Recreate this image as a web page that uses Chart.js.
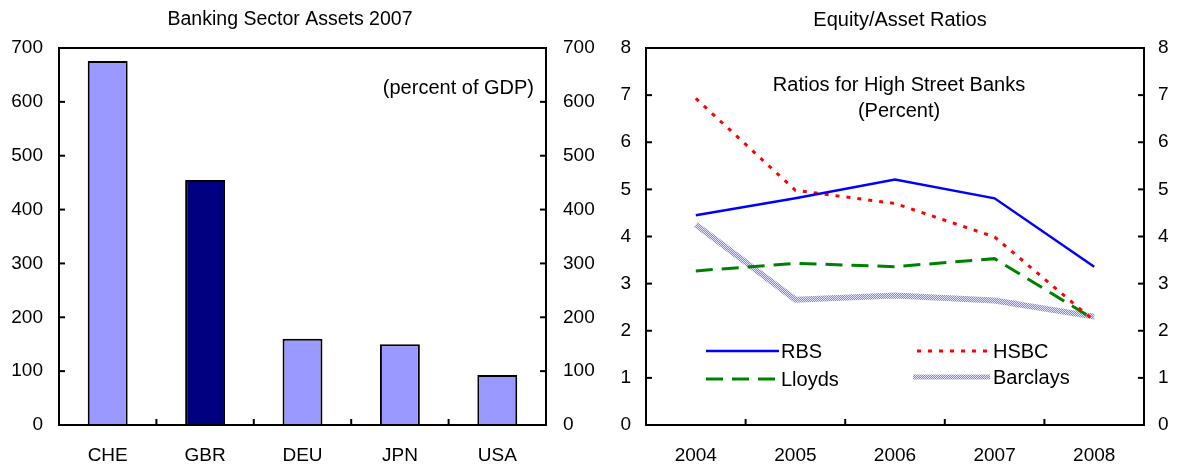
<!DOCTYPE html>
<html>
<head>
<meta charset="utf-8">
<script src="https://cdn.jsdelivr.net/npm/chart.js@4.4.0/dist/chart.umd.min.js"></script>
<style>
  html, body { margin: 0; padding: 0; background: #fff; }
  #wrap { position: relative; width: 1178px; height: 465px; }
  .box { position: absolute; top: 0; height: 465px; }
</style>
</head>
<body>
<div id="wrap">
  <div class="box" style="left:0;width:600px"><canvas id="assets"></canvas></div>
  <div class="box" style="left:589px;width:589px"><canvas id="ratios"></canvas></div>
</div>
<script>
// left panel: banking sector assets 2007, percent of GDP
const countries = ['CHE', 'GBR', 'DEU', 'JPN', 'USA'];
const assetsPct = [676, 455, 160, 150, 93];

// right panel: equity/asset ratios, percent
const years = ['2004', '2005', '2006', '2007', '2008'];
const rbs = [4.45, 4.81, 5.21, 4.81, 3.36];
const hsbc = [6.93, 4.98, 4.70, 3.99, 2.21];
const lloyds = [3.27, 3.43, 3.36, 3.53, 2.24];
const barclays = [4.25, 2.66, 2.75, 2.64, 2.30];

const FONT = 'Liberation Sans, Arial, sans-serif';
const tickFont = { family: FONT, size: 19 };

Chart.defaults.font.family = FONT;
Chart.defaults.color = '#000';

function hatch() {
  const c = document.createElement('canvas');
  c.width = 2; c.height = 2;
  const g = c.getContext('2d');
  g.fillStyle = '#e4e4ff';
  g.fillRect(0, 0, 2, 2);
  g.fillStyle = '#8080ff';
  g.fillRect(0, 0, 1, 1);
  g.fillRect(1, 1, 1, 1);
  return g.createPattern(c, 'repeat');
}

// box round the plot plus short inward tick marks
const frame = {
  id: 'frame',
  afterDraw(chart) {
    const { ctx, chartArea: a, scales } = chart;
    const seg = (x1, y1, x2, y2) => {
      ctx.beginPath(); ctx.moveTo(x1, y1); ctx.lineTo(x2, y2); ctx.stroke();
    };
    ctx.save();
    ctx.strokeStyle = '#000';
    ctx.lineWidth = 2;
    ctx.strokeRect(a.left, a.top, a.right - a.left, a.bottom - a.top);
    const y = scales.y;
    y.ticks.forEach(t => {
      const py = y.getPixelForValue(t.value);
      seg(a.left, py, a.left + 6, py);
      seg(a.right - 6, py, a.right, py);
    });
    const x = scales.x;
    for (let i = 0; i < x.ticks.length - 1; i++) {
      const px = (x.getPixelForValue(i) + x.getPixelForValue(i + 1)) / 2;
      seg(px, a.bottom, px, a.bottom - 6);
    }
    ctx.restore();
  }
};

// titles and notes
const notes = {
  id: 'notes',
  afterDraw(chart, args, opts) {
    const ctx = chart.ctx;
    ctx.save();
    ctx.fillStyle = '#000';
    ctx.textBaseline = 'middle';
    (opts.items || []).forEach(n => {
      ctx.font = n.size + 'px ' + FONT;
      ctx.textAlign = n.align || 'center';
      ctx.fillText(n.text, n.x, n.y);
    });
    ctx.restore();
  }
};

// legend laid out as in the original, two by two inside the plot
const keyBox = {
  id: 'keyBox',
  afterDraw(chart, args, opts) {
    const ctx = chart.ctx;
    ctx.save();
    (opts.items || []).forEach(k => {
      const ds = chart.data.datasets[k.index];
      ctx.strokeStyle = ds.borderColor;
      ctx.lineWidth = k.lw || ds.borderWidth;
      ctx.setLineDash(ds.borderDash || []);
      ctx.beginPath();
      ctx.moveTo(k.x, k.y);
      ctx.lineTo(k.x + k.w, k.y);
      ctx.stroke();
      ctx.setLineDash([]);
      ctx.fillStyle = '#000';
      ctx.font = '20px ' + FONT;
      ctx.textAlign = 'left';
      ctx.textBaseline = 'middle';
      ctx.fillText(ds.label, k.tx, k.y + 1);
    });
    ctx.restore();
  }
};

const noGrid = { display: false, drawTicks: false };
const noBorder = { display: false };

new Chart(document.getElementById('assets'), {
  type: 'bar',
  data: {
    labels: countries,
    datasets: [{
      data: assetsPct,
      backgroundColor: countries.map(c => c === 'GBR' ? '#000080' : '#9999ff'),
      borderColor: '#000',
      borderWidth: 2,
      borderSkipped: 'bottom',
      barPercentage: 0.41,
      categoryPercentage: 1
    }]
  },
  options: {
    responsive: true,
    maintainAspectRatio: false,
    animation: false,
    layout: { padding: { top: 48, left: 0, right: 0, bottom: 0 } },
    plugins: {
      legend: { display: false },
      tooltip: { enabled: false },
      notes: {
        items: [
          { text: 'Banking Sector Assets 2007', x: 290, y: 20, size: 19.5 },
          { text: '(percent of GDP)', x: 534, y: 88, size: 20, align: 'right' }
        ]
      }
    },
    scales: {
      x: {
        grid: noGrid, border: noBorder,
        ticks: { font: tickFont, padding: 19 },
        afterFit(s) { s.height = 40; }
      },
      y: {
        position: 'left', min: 0, max: 700,
        grid: noGrid, border: noBorder,
        ticks: { stepSize: 100, font: tickFont, padding: 16 },
        afterFit(s) { s.width = 59; }
      },
      y2: {
        position: 'right', min: 0, max: 700,
        grid: noGrid, border: noBorder,
        ticks: { stepSize: 100, font: tickFont, padding: 17 },
        afterFit(s) { s.width = 54; }
      }
    }
  },
  plugins: [frame, notes]
});

new Chart(document.getElementById('ratios'), {
  type: 'line',
  data: {
    labels: years,
    datasets: [
      { label: 'RBS', data: rbs, borderColor: '#0000ff', borderWidth: 2.5 },
      { label: 'HSBC', data: hsbc, borderColor: '#ff0000', borderWidth: 3, borderDash: [4, 7] },
      { label: 'Lloyds', data: lloyds, borderColor: '#008000', borderWidth: 3, borderDash: [17, 9] },
      { label: 'Barclays', data: barclays, borderColor: hatch(), borderWidth: 6 }
    ]
  },
  options: {
    responsive: true,
    maintainAspectRatio: false,
    animation: false,
    layout: { padding: { top: 48, left: 0, right: 0, bottom: 0 } },
    elements: {
      line: { tension: 0, fill: false, borderCapStyle: 'butt' },
      point: { radius: 0 }
    },
    plugins: {
      legend: { display: false },
      tooltip: { enabled: false },
      notes: {
        items: [
          { text: 'Equity/Asset Ratios', x: 311, y: 20, size: 20 },
          { text: 'Ratios for High Street Banks', x: 310, y: 85, size: 20 },
          { text: '(Percent)', x: 310, y: 111, size: 20 }
        ]
      },
      keyBox: {
        items: [
          { index: 0, x: 117, y: 351, w: 73, tx: 192 },
          { index: 1, x: 328, y: 351, w: 73, tx: 404 },
          { index: 2, x: 117, y: 379, w: 73, tx: 192 },
          { index: 3, x: 324, y: 377, w: 77, tx: 404, lw: 5 }
        ]
      }
    },
    scales: {
      x: {
        offset: true,
        grid: noGrid, border: noBorder,
        ticks: { font: tickFont, padding: 19 },
        afterFit(s) { s.height = 40; }
      },
      y: {
        position: 'left', min: 0, max: 8,
        grid: noGrid, border: noBorder,
        ticks: { stepSize: 1, font: tickFont, padding: 15 },
        afterFit(s) { s.width = 57; }
      },
      y2: {
        position: 'right', min: 0, max: 8,
        grid: noGrid, border: noBorder,
        ticks: { stepSize: 1, font: tickFont, padding: 14 },
        afterFit(s) { s.width = 34; }
      }
    }
  },
  plugins: [frame, notes, keyBox]
});
</script>
</body>
</html>
